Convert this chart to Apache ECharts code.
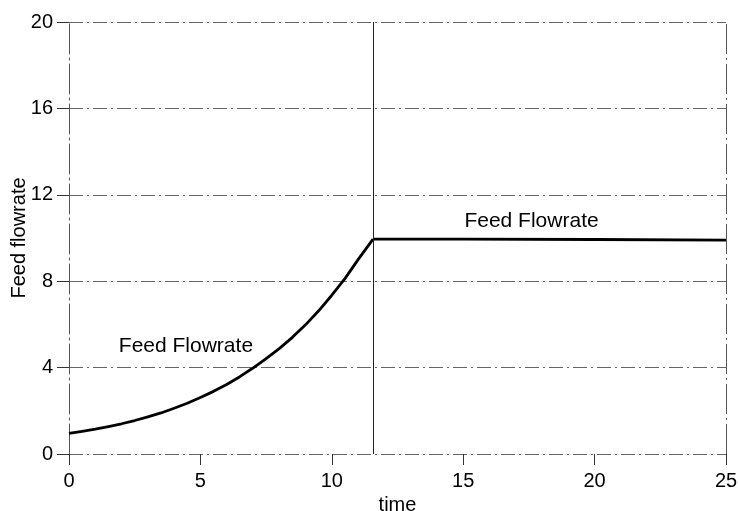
<!DOCTYPE html>
<html><head><meta charset="utf-8">
<script src="https://cdn.jsdelivr.net/npm/echarts@6/dist/echarts.min.js"></script>
<style>html,body{margin:0;padding:0;background:#fff}#c{width:738px;height:511px}</style>
</head><body><div id="c"></div>
<script>
var xTicks = [0, 5, 10, 15, 20, 25];
var yTicks = [0, 4, 8, 12, 16, 20];
var rampTime = [0, 0.5, 1, 1.5, 2, 2.5, 3, 3.5, 4, 4.5, 5, 5.5, 6, 6.5, 7, 7.5, 8, 8.5, 9, 9.5, 10, 10.5, 11, 11.57];
var rampRate = [0.95, 1.05, 1.15, 1.27, 1.4, 1.55, 1.72, 1.9, 2.12, 2.35, 2.62, 2.9, 3.22, 3.58, 3.98, 4.42, 4.88, 5.4, 5.98, 6.63, 7.35, 8.12, 9.0, 9.95];
var holdTime = [11.57, 15, 20, 25];
var holdRate = [9.95, 9.95, 9.93, 9.9];
var switchTime = 11.57;
var labelA = {t: 4.45, v: 5.0, text: 'Feed Flowrate'};
var labelB = {t: 17.6, v: 10.8, text: 'Feed Flowrate'};

function pairs(xs, ys){ return xs.map(function(t, i){ return [t, ys[i]]; }); }
var font = 'Liberation Sans, Arial, Helvetica, sans-serif';
var dashDot = [30, 4, 2, 4];
var gridLine = {color: '#666', width: 1, type: [14, 4, 2, 4]};
var chart = echarts.init(document.getElementById('c'));
chart.setOption({
  animation: false,
  grid: {left: 69, right: 12, top: 22, bottom: 57, containLabel: false, outerBoundsMode: 'none'},
  xAxis: {
    type: 'value', min: 0, max: 25, interval: 5,
    name: 'time', nameLocation: 'middle', nameGap: 41, nameMoveOverlap: false,
    nameTextStyle: {fontFamily: font, fontSize: 20, color: '#000'},
    axisLine: {show: false},
    axisTick: {show: true, length: 11, lineStyle: {color: '#333'}},
    axisLabel: {fontFamily: font, fontSize: 20, color: '#000', margin: 17,
      formatter: function(v){ return xTicks.indexOf(v) >= 0 ? String(v) : ''; }},
    splitLine: {show: false}
  },
  yAxis: {
    type: 'value', min: 0, max: 20, interval: 4,
    name: 'Feed flowrate', nameLocation: 'middle', nameGap: 40, nameMoveOverlap: false,
    nameTextStyle: {fontFamily: font, fontSize: 20, color: '#000'},
    axisLine: {show: true, lineStyle: {color: '#555', width: 1, type: dashDot}},
    axisTick: {show: true, length: 12, lineStyle: {color: '#333'}},
    axisLabel: {fontFamily: font, fontSize: 20, color: '#000', margin: 16,
      formatter: function(v){ return yTicks.indexOf(v) >= 0 ? String(v) : ''; }},
    splitLine: {show: true, lineStyle: gridLine}
  },
  series: [{
    type: 'line', data: pairs(rampTime, rampRate), symbol: 'none',
    lineStyle: {color: '#000', width: 2.8, join: 'round'},
    markLine: {
      silent: true, symbol: 'none', label: {show: false},
      data: [
        {xAxis: switchTime, lineStyle: {color: '#222', width: 1, type: 'solid'}},
        {xAxis: 25, lineStyle: {color: '#555', width: 1, type: dashDot}}
      ]
    },
    markPoint: {
      symbol: 'circle', symbolSize: 0, silent: true,
      label: {show: true, position: 'inside', fontFamily: font, fontSize: 21, color: '#000',
        formatter: function(p){ return p.name; }},
      data: [
        {name: labelA.text, coord: [labelA.t, labelA.v]},
        {name: labelB.text, coord: [labelB.t, labelB.v]}
      ]
    }
  }, {
    type: 'line', data: pairs(holdTime, holdRate), symbol: 'none',
    lineStyle: {color: '#000', width: 2.8}
  }]
});
</script></body></html>
